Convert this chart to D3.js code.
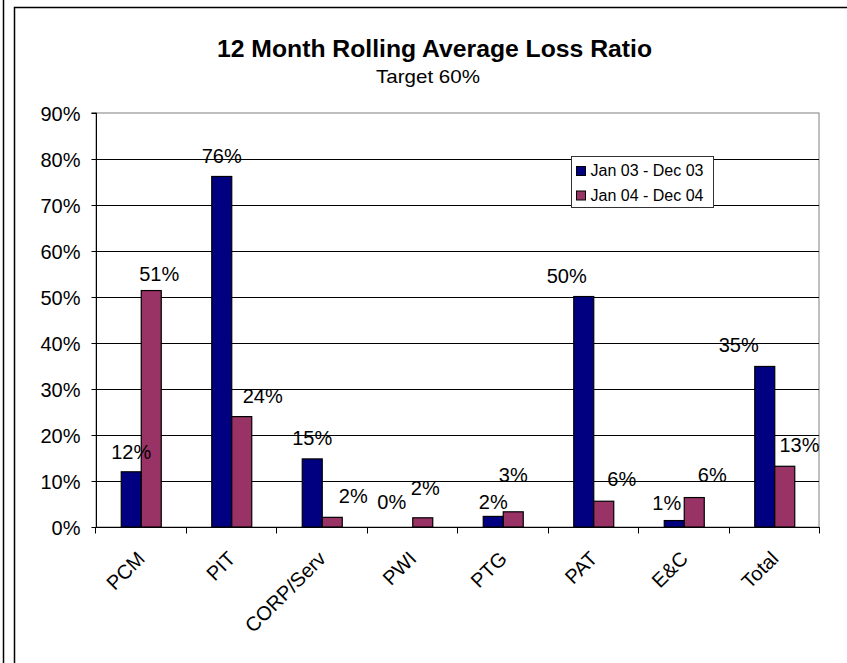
<!DOCTYPE html>
<html><head><meta charset="utf-8">
<script src="https://cdn.jsdelivr.net/npm/d3@7"></script>
<style>
html,body{margin:0;padding:0;background:#fff;}
svg{display:block;font-family:Arial, "Liberation Sans", sans-serif;}
</style></head>
<body><svg id="c" width="847" height="663"></svg>
<script>
// ---- data ----
const categories = ["PCM","PIT","CORP/Serv","PWI","PTG","PAT","E&C","Total"];
const seriesNames = ["Jan 03 - Dec 03","Jan 04 - Dec 04"];
const jan03 = [0.120,0.762,0.148,0.000,0.023,0.501,0.014,0.349];
const jan04 = [0.514,0.240,0.021,0.020,0.033,0.056,0.064,0.132];
const yTicks = [0,0.1,0.2,0.3,0.4,0.5,0.6,0.7,0.8,0.9];
const titleText = "12 Month Rolling Average Loss Ratio";
const subtitleText = "Target 60%";

// ---- layout (label nudges as placed in the original) ----
const colors = ["#000080","#993366"];
const labelDx = [[0,0,0,-11,0,-17,-7.5,-26],[8,21,21,2.5,0,18,18,14.7]];
const labelDy = [[-13,-13.7,-14,-17.7,-7,-14,-11,-14],[-10,-13.7,-14,-22.7,-30.3,-15.3,-15.4,-14.6]];

const svg = d3.select("#c");
const pLeft=96, pRight=820, pTop=113, pBottom=527;

// frames
svg.append("line").attr("x1",3.5).attr("x2",3.5).attr("y1",0).attr("y2",663).attr("stroke","#000").attr("stroke-width",1.5);
svg.append("rect").attr("x",14.5).attr("y",7.5).attr("width",860).attr("height",700).attr("fill","#fff").attr("stroke","#000").attr("stroke-width",1.5);

const x0 = d3.scaleBand().domain(categories).range([pLeft,pRight]).paddingInner(0).paddingOuter(0);
const groupW = 40;
const x1 = d3.scaleBand().domain(seriesNames).range([0,groupW]);
const y = d3.scaleLinear().domain([0,0.9]).range([pBottom,pTop]);

// title
svg.append("text").attr("x",434.5).attr("y",57).attr("text-anchor","middle")
  .attr("font-weight","bold").attr("font-size",23).attr("textLength",435).attr("lengthAdjust","spacingAndGlyphs").text(titleText);
svg.append("text").attr("x",428).attr("y",83).attr("text-anchor","middle")
  .attr("font-size",19).attr("textLength",104).attr("lengthAdjust","spacingAndGlyphs").text(subtitleText);

// plot area border
svg.append("rect").attr("x",pLeft).attr("y",pTop).attr("width",pRight-1-pLeft).attr("height",pBottom-pTop)
  .attr("fill","none").attr("stroke","#808080").attr("stroke-width",1);

// gridlines
svg.append("g").selectAll("line").data(yTicks.filter(t=>t>0 && t<0.9)).join("line")
  .attr("x1",pLeft).attr("x2",pRight-1).attr("y1",d=>Math.round(y(d))+0.5).attr("y2",d=>Math.round(y(d))+0.5)
  .attr("stroke","#000").attr("stroke-width",1);

// bars
const series = [jan03, jan04];
series.forEach((vals,si)=>{
  svg.append("g").selectAll("rect").data(categories).join("rect")
    .attr("x",(c)=>x0(c)+(x0.bandwidth()-groupW)/2 + x1(seriesNames[si]))
    .attr("y",(c,i)=>y(vals[i]))
    .attr("width",x1.bandwidth())
    .attr("height",(c,i)=>pBottom-y(vals[i]))
    .attr("fill",colors[si]).attr("stroke","#000").attr("stroke-width",1.2)
    .attr("display",(c,i)=>vals[i]>0?null:"none");
});

// y axis
const yAxis = d3.axisLeft(y).tickValues(yTicks).tickFormat(d3.format(".0%")).tickSize(5).tickPadding(11);
const ga = svg.append("g").attr("transform",`translate(${pLeft+0.5},0)`).call(yAxis);
ga.select(".domain").attr("stroke","#000").attr("d",`M-5,${pTop}H0V${pBottom}`);
ga.selectAll(".tick text").attr("font-size",20).attr("fill","#000").attr("dy","0.36em").attr("font-family","Arial, 'Liberation Sans', sans-serif");
ga.selectAll(".tick line").attr("stroke","#000");

// x axis
const xAxis = d3.axisBottom(x0).tickSize(0).tickFormat("");
const gx = svg.append("g").attr("transform",`translate(0,${pBottom+0.5})`).call(xAxis);
gx.select(".domain").attr("stroke","#000").attr("d",`M${pLeft},0H${pRight}`);
const bounds = categories.map(c=>x0(c)).concat([pRight]);
gx.append("g").selectAll("line").data(bounds).join("line")
  .attr("x1",d=>Math.round(d)-0.5).attr("x2",d=>Math.round(d)-0.5).attr("y1",0).attr("y2",6).attr("stroke","#000");
svg.append("g").selectAll("text").data(categories).join("text")
  .attr("transform",c=>`translate(${x0(c)+x0.bandwidth()/2-5},${pBottom+23}) rotate(-45)`)
  .attr("text-anchor","end").attr("dy","0.7em").attr("font-size",20).text(c=>c);

// data labels
series.forEach((vals,si)=>{
  svg.append("g").selectAll("text").data(categories).join("text")
    .attr("x",(c,i)=>x0(c)+(x0.bandwidth()-groupW)/2 + x1(seriesNames[si]) + x1.bandwidth()/2 + labelDx[si][i])
    .attr("y",(c,i)=>y(vals[i]) + labelDy[si][i])
    .attr("text-anchor","middle").attr("font-size",20).attr("fill","#000")
    .text((c,i)=>d3.format(".0%")(vals[i]));
});

// legend
const lg = svg.append("g");
lg.append("rect").attr("x",571.5).attr("y",156.5).attr("width",142).attr("height",51)
  .attr("fill","#fff").attr("stroke","#333").attr("stroke-width",1);
seriesNames.forEach((s,i)=>{
  lg.append("rect").attr("x",576.5).attr("y",166.5+i*24.5).attr("width",9).attr("height",9)
    .attr("fill",colors[i]).attr("stroke","#000").attr("stroke-width",1);
  lg.append("text").attr("x",590.5).attr("y",176+i*24.5).attr("font-size",16).text(s);
});
</script></body></html>
